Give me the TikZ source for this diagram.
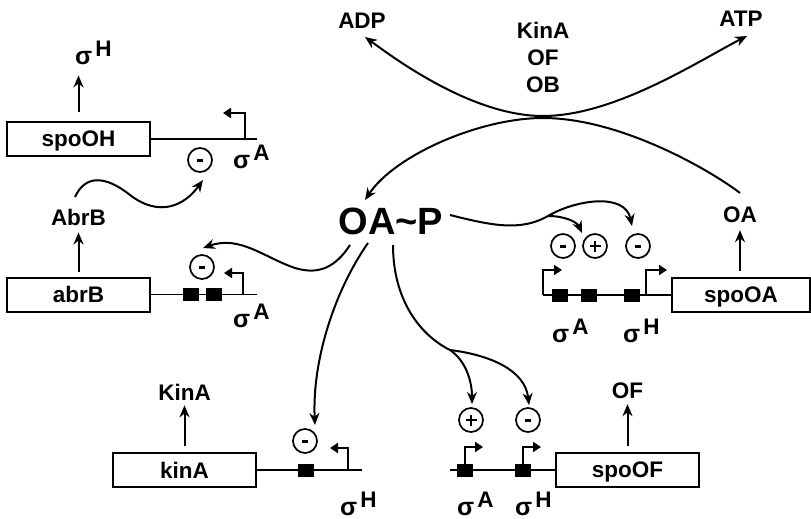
\documentclass[tikz,border=0pt]{standalone}
\usepackage{fontspec}
\setmainfont{Liberation Sans}
\usetikzlibrary{arrows.meta}
\newcommand{\sgm}[1]{{\fontsize{25}{25}\selectfont σ}\kern3pt\raisebox{8pt}{#1}}
\begin{document}
\begin{tikzpicture}[x=1pt,y=-1pt,
  every node/.style={font=\bfseries\fontsize{22.5}{27}\selectfont, inner sep=0pt},
  gene/.style={draw, line width=2pt, minimum width=143pt, minimum height=34pt, text depth=0pt},
  sig/.style={anchor=base west},
  site/.style={fill=black, minimum width=16pt, minimum height=13pt},
  reg/.style={circle, draw, line width=1.7pt, minimum size=24pt},
  arr/.style={line width=2pt, -{Stealth[length=12pt,width=10pt]}},
  dna/.style={line width=1.6pt},
  prom/.style={line width=2pt, -{Triangle[length=8pt,width=10pt]}},
  minus/.style={line width=3pt},
  plus/.style={line width=2.2pt},
]
\useasboundingbox (0,0) rectangle (811,519);

% top labels
\node (ADP) at (362,21) {ADP};
\node (ATP) at (741,19) {ATP};
\node[align=center] (kin) at (543,57) {KinA\\OF\\OB};
\node (OAP) at (391,221) {\fontsize{38}{38}\selectfont OA\textasciitilde P};
\node (OA) at (740,215) {OA};
\node (OF) at (627.5,391) {OF};
\node (KinA) at (184.5,392) {KinA};
\node (AbrB) at (78.5,217) {AbrB};
\node[sig] (sH0) at (75,65) {\sgm{H}};

% gene boxes
\node[gene] (spoOH) at (78.5,139) {spoOH};
\node[gene] (abrB) at (78.5,294.5) {abrB};
\node[gene] (kinA) at (184.5,470) {kinA};
\node[gene, minimum width=138pt] (spoOA) at (741,295) {spoOA};
\node[gene] (spoOF) at (627.5,470) {spoOF};

% spoOH construct
\coordinate (hEnd) at (257,139);
\draw[dna] (spoOH.east) -- (hEnd);
\draw[prom] (245,139) -- (245,113) -- (223,113);
\node[sig] (sA1) at (233,168) {\sgm{A}};
\node[reg] (m1) at (200,160) {};

% abrB construct
\coordinate (bEnd) at (257,294.5);
\draw[dna] (abrB.east) -- (bEnd);
\node[site] (b1) at (191,294.5) {};
\node[site] (b2) at (213.5,294.5) {};
\draw[prom] (243,294.5) -- (243,273) -- (224,273);
\node[sig] (sA2) at (233,327) {\sgm{A}};
\node[reg] (m2) at (202,267) {};

% kinA construct
\coordinate (kEnd) at (362,470);
\draw[dna] (kinA.east) -- (kEnd);
\node[site] (k1) at (305.5,470) {};
\draw[prom] (348,470) -- (348,448) -- (330,448);
\node[sig] (sH1) at (340,515) {\sgm{H}};
\node[reg] (m3) at (305,441) {};

% spoOA construct
\coordinate (aEnd) at (543,295);
\draw[dna] (aEnd) -- (spoOA.west);
\node[site] (a1) at (560,295) {};
\node[site] (a2) at (588.5,295) {};
\node[site] (a3) at (631.5,295) {};
\draw[prom] (543,295) -- (543,270) -- (562,270);
\draw[prom] (646,295) -- (646,270) -- (667,270);
\node[sig] (sA3) at (552,342) {\sgm{A}};
\node[sig] (sH3) at (623,342) {\sgm{H}};
\node[reg] (m4) at (563,246) {};
\node[reg] (p5) at (595,246) {};
\node[reg] (m6) at (638,246) {};

% spoOF construct
\coordinate (fEnd) at (450,470);
\draw[dna] (fEnd) -- (spoOF.west);
\node[site] (f1) at (464.5,470) {};
\node[site] (f2) at (522.5,470) {};
\draw[prom] (465,464) -- (465,447) -- (483,447);
\draw[prom] (523,464) -- (523,447) -- (541,447);
\node[sig] (sA4) at (457,515) {\sgm{A}};
\node[sig] (sH4) at (515,515) {\sgm{H}};
\node[reg] (p7) at (471,420) {};
\node[reg] (m8) at (528,420) {};

% signs in circles
\foreach \c in {m1,m2,m3,m4,m6,m8}
  \draw[minus] ([xshift=-3pt]\c.center) -- ([xshift=3pt]\c.center);
\foreach \c in {p5,p7}
  \draw[plus] ([xshift=-5.5pt]\c.center) -- ([xshift=5.5pt]\c.center)
              ([yshift=-5.5pt]\c.center) -- ([yshift=5.5pt]\c.center);

% product arrows
\draw[arr, shorten <=9pt, shorten >=10pt] (spoOH.north) -- (spoOH.north |- sH0.south);
\draw[arr, shorten <=5pt, shorten >=7pt] (abrB.north) -- (AbrB.south);
\draw[arr, shorten <=6pt, shorten >=5pt] (kinA.north) -- (KinA.south);
\draw[arr, shorten <=6pt, shorten >=5pt] (spoOF.north) -- (OF.south);
\draw[arr, shorten <=6pt, shorten >=7pt] (OA.south |- spoOA.north) -- (OA.south);

% phosphorelay crossing curves
\coordinate (uL) at (365,37);
\coordinate (uX) at (543,116);
\coordinate (uR) at (747,36);
\draw[line width=2pt, {Stealth[length=12pt,width=10pt]}-{Stealth[length=12pt,width=10pt]}]
  (uL) .. controls (390,55) and (470,116) .. (uX) .. controls (615,116) and (700,60) .. (uR);
\coordinate (nR) at (740,193);
\coordinate (nX) at (543,118);
\coordinate (nL) at (365,200);
\draw[arr] (nR) .. controls (710,170) and (620,118) .. (nX) .. controls (480,118) and (395,155) .. (nL);

% AbrB represses spoOH
\coordinate (ab0) at (75,197);
\coordinate (ab1) at (130,195);
\coordinate (ab2) at (203,180);
\draw[arr] (ab0) .. controls (85,175) and (105,175) .. (ab1) .. controls (160,218) and (185,205) .. (ab2);

% OA~P to abrB
\coordinate (o1) at (350,245);
\coordinate (o1m) at (295,268);
\coordinate (o1e) at (203,248);
\draw[arr] (o1) .. controls (335,268) and (318,275) .. (o1m) .. controls (265,258) and (240,235) .. (o1e);

% OA~P to kinA
\coordinate (o2) at (368,243);
\coordinate (o2e) at (315,425);
\draw[arr] (o2) .. controls (335,290) and (312,360) .. (o2e);

% OA~P to spoOA
\coordinate (o3) at (450,215);
\coordinate (o3b) at (548,216);
\coordinate (o3e) at (632,226);
\coordinate (o3f) at (582,233);
\draw[arr] (o3) .. controls (490,225) and (520,232) .. (o3b) .. controls (575,200) and (625,192) .. (o3e);
\draw[arr] (o3b) .. controls (565,216) and (577,222) .. (o3f);

% OA~P to spoOF
\coordinate (o4) at (393,245);
\coordinate (o4b) at (450,350);
\coordinate (o4e) at (472,404);
\coordinate (o4f) at (529,405);
\draw[arr] (o4) .. controls (393,300) and (420,335) .. (o4b) .. controls (465,360) and (472,380) .. (o4e);
\draw[arr] (o4b) .. controls (490,355) and (525,370) .. (o4f);
\end{tikzpicture}
\end{document}
